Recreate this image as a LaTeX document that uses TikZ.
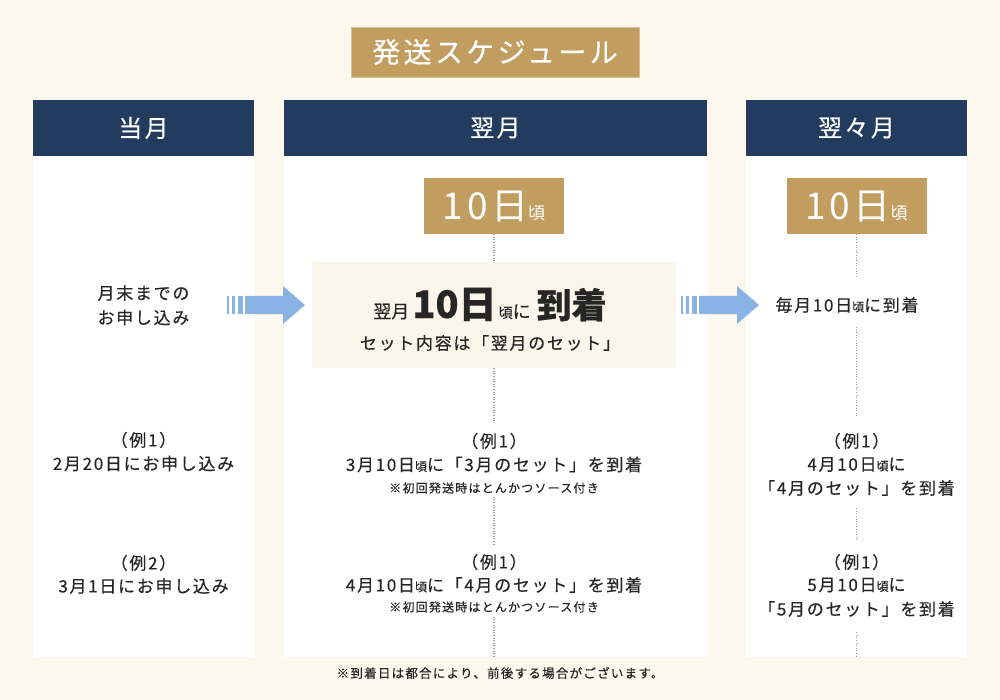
\documentclass[tikz,border=0pt]{standalone}
\usepackage{fontspec}
\setmainfont{Noto Sans CJK JP}[LetterSpace=10]
\newfontfamily\medjp{Noto Sans CJK JP}[LetterSpace=10, FakeBold=0.35]
\newfontfamily\tightjp{Noto Sans CJK JP}[FakeBold=0.35]
\definecolor{bg}{HTML}{FCF8EE}
\definecolor{gold}{HTML}{C19D5F}
\definecolor{navy}{HTML}{233B5F}
\definecolor{arrowc}{HTML}{88B3E4}
\definecolor{ink}{HTML}{262626}
\definecolor{boxc}{HTML}{FBF6EA}
\definecolor{dotc}{HTML}{9C9C9C}
\newcommand\setfs[1]{\fontsize{#1}{#1}\selectfont}
\newcommand\koro[1]{{\setfs{#1}頃}}
\tikzset{
  head/.style={fill=navy, minimum height=56, inner sep=0pt, text=white, font=\medjp\setfs{24}},
  colbody/.style={fill=white, minimum height=501, inner sep=0pt},
  gbox/.style={fill=gold, minimum width=140, minimum height=56, inner sep=0pt, text=white},
  txt/.style={text=ink, inner sep=0pt, font=\medjp\setfs{17}},
  note/.style={text=ink, inner sep=0pt, font=\medjp\setfs{12}},
  dotl/.style={draw=dotc, line width=1.1pt, dash pattern=on 1pt off 1.6pt},
  arrowfill/.style={fill=arrowc}
}
\newcommand\flowarrow{%
  \fill[arrowfill] (0,-9) rectangle (2,9);
  \fill[arrowfill] (5,-9) rectangle (8,9);
  \fill[arrowfill] (11,-9) rectangle (16,9);
  \fill[arrowfill] (18,-9) -- (56,-9) -- (56,-19) -- (78,0) -- (56,19) -- (56,9) -- (18,9) -- cycle;
}
\begin{document}
\begin{tikzpicture}[x=1pt,y=-1pt]
\fill[bg] (0,0) rectangle (1000,700);
\useasboundingbox (0,0) rectangle (1000,700);

% title
\node[fill=gold, draw=gold!65!white, line width=0.8pt, minimum width=288, minimum height=50, inner sep=0pt, text=white, font=\medjp\setfs{28}\addfontfeature{LetterSpace=12}] (title) at (495,52) {発送スケジュール};

% headers
\node[head, minimum width=221] (h1) at (143.5,128) {当月};
\node[head, minimum width=423] (h2) at (495.5,128) {翌月};
\node[head, minimum width=221] (h3) at (856.5,128) {翌々月};

% column bodies
\node[colbody, minimum width=221] (c1) at (143.5,406.5) {};
\node[colbody, minimum width=423] (c2) at (495.5,406.5) {};
\node[colbody, minimum width=221] (c3) at (856.5,406.5) {};

% gold date boxes
\node[gbox] (g2) at (494,206) {\setfs{37}10日\koro{17}};
\node[gbox] (g3) at (856.5,206) {\setfs{37}10日\koro{17}};

% central box
\node[fill=boxc, minimum width=364, minimum height=106, inner sep=0pt] (b2) at (494,315) {};
\node[text=ink, inner sep=0pt, anchor=base, font=\tightjp] (b2a) at (490,318)
  {\setfs{18}翌月\hspace{3pt}{\setfs{38}\bfseries 10日}\hspace{2pt}{\setfs{14}頃}に\hspace{6pt}{\setfs{35}\bfseries 到着}};
\node[txt] (b2b) at (490,343) {セット内容は「翌月のセット」};

% arrows
\begin{scope}[shift={(227,305)}]\flowarrow\end{scope}
\begin{scope}[shift={(681,305)}]\flowarrow\end{scope}

% left column
\node[txt] (l0a) at (143.5,293) {月末までの};
\node[txt] (l0b) at (143.5,317.5) {お申し込み};
\node[txt] (l1a) at (143.5,440) {（例1）};
\node[txt] (l1b) at (143.5,463.5) {2月20日にお申し込み};
\node[txt] (l2a) at (143.5,563) {（例2）};
\node[txt] (l2b) at (143.5,586) {3月1日にお申し込み};

% middle column
\node[txt] (m1a) at (494,441) {（例1）};
\node[txt] (m1b) at (494,464.5) {3月10日\koro{12}に「3月のセット」を到着};
\node[note] (m1c) at (494,488) {※初回発送時はとんかつソース付き};
\node[txt] (m2a) at (494,562) {（例1）};
\node[txt] (m2b) at (494,585) {4月10日\koro{12}に「4月のセット」を到着};
\node[note] (m2c) at (494,607) {※初回発送時はとんかつソース付き};

% right column
\node[txt] (r0) at (847,305) {毎月10日\koro{12}に到着};
\node[txt] (r1a) at (856.5,441) {（例1）};
\node[txt] (r1b) at (856.5,464.5) {4月10日\koro{12}に};
\node[txt] (r1c) at (856.5,488) {「4月のセット」を到着};
\node[txt] (r2a) at (856.5,562) {（例1）};
\node[txt] (r2b) at (856.5,585) {5月10日\koro{12}に};
\node[txt] (r2c) at (856.5,609) {「5月のセット」を到着};

% dotted connectors, middle
\draw[dotl] (g2.south) -- (b2.north);
\draw[dotl, shorten >=12pt] (b2.south) -- (m1a.north);
\draw[dotl, shorten <=3pt, shorten >=9pt] (m1c.south) -- (m2a.north);
\draw[dotl, shorten <=4pt] (m2c.south) -- (m2c.south |- c2.south);

% dotted connectors, right
\draw[dotl, shorten >=20pt] (g3.south) -- (g3.south |- r0.north);
\draw[dotl, shorten <=14pt, shorten >=15pt] (g3.south |- r0.south) -- (r1a.north);
\draw[dotl, shorten <=12pt, shorten >=13pt] (r1c.south) -- (r2a.north);
\draw[dotl, shorten <=15pt] (r2c.south) -- (c3.south);

% footnote
\node[text=ink, inner sep=0pt, font=\medjp\setfs{12.5}] (foot) at (500,673) {※到着日は都合により、前後する場合がございます。};
\end{tikzpicture}
\end{document}
